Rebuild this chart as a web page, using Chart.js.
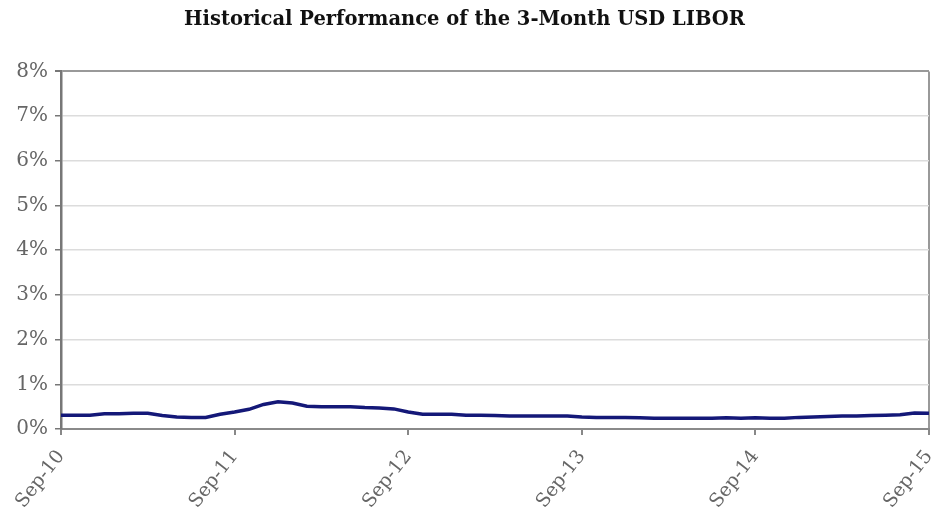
<!DOCTYPE html>
<html>
<head>
<meta charset="utf-8">
<script src="https://cdn.jsdelivr.net/npm/chart.js"></script>
<style>
  body { margin: 0; background: #fff; }
  #wrap { width: 933px; height: 514px; }
</style>
</head>
<body>
<div id="wrap"><canvas id="myChart" width="933" height="514"></canvas></div>
<script>
var ctx = document.getElementById('myChart');

// x tick labels, one every 12 months starting Sep 2010
const yearLabels = ['Sep-10', 'Sep-11', 'Sep-12', 'Sep-13', 'Sep-14', 'Sep-15'];

// month index from Sep-10 (0) to Sep-15 (60)
const months = [];
for (let i = 0; i <= 60; i++) months.push(i);

// 3-month USD LIBOR, % (monthly)
const libor = [
  0.31, 0.31, 0.31, 0.34, 0.34, 0.35, 0.35, 0.30, 0.27, 0.26,
  0.26, 0.33, 0.38, 0.44, 0.55, 0.61, 0.58, 0.51, 0.50, 0.50,
  0.50, 0.48, 0.47, 0.45, 0.38, 0.33, 0.33, 0.33, 0.31, 0.31,
  0.30, 0.29, 0.29, 0.29, 0.29, 0.29, 0.27, 0.26, 0.26, 0.26,
  0.25, 0.24, 0.24, 0.24, 0.24, 0.24, 0.25, 0.24, 0.25, 0.24,
  0.24, 0.26, 0.27, 0.28, 0.29, 0.29, 0.30, 0.31, 0.32, 0.36,
  0.35
];

const points = months.map((m, i) => ({ x: m, y: libor[i] }));

var myChart = new Chart(ctx, {
  type: 'line',
  data: {
    datasets: [{
      label: '3-Month USD LIBOR',
      data: points,
      borderColor: '#141878',
      borderWidth: 3.5,
      pointRadius: 0,
      tension: 0
    }]
  },
  options: {
    responsive: false,
    animation: false,
    layout: { padding: { left: 0, right: 4, top: 0, bottom: 0 } },
    plugins: {
      legend: { display: false },
      tooltip: { enabled: false },
      title: {
        display: true,
        text: 'Historical Performance of the 3-Month USD LIBOR',
        color: '#111',
        font: { family: 'DejaVu Serif', size: 19.5, weight: 'bold' },
        padding: { top: 8, bottom: 40 }
      }
    },
    scales: {
      x: {
        type: 'linear',
        min: 0,
        max: 60,
        afterFit: function (scale) {
          scale.height = 85;
          scale.paddingRight = 0;
        },
        ticks: {
          stepSize: 12,
          minRotation: 52,
          maxRotation: 52,
          padding: 11,
          color: '#666',
          font: { family: 'DejaVu Serif', size: 19 },
          callback: function (v) { return yearLabels[v / 12]; }
        },
        grid: {
          color: function (c) { return c.tick && c.tick.value === 60 ? '#999' : 'rgba(0,0,0,0)'; },
          tickColor: '#888',
          tickLength: 6,
          lineWidth: 2
        },
        border: { color: '#8a8a8a', width: 2 }
      },
      y: {
        min: 0,
        max: 8,
        afterFit: function (scale) { scale.width = 61; },
        ticks: {
          stepSize: 1,
          padding: 7,
          color: '#666',
          font: { family: 'DejaVu Serif', size: 20 },
          callback: function (v) { return v + '%'; }
        },
        grid: {
          color: function (c) { return c.tick && c.tick.value === 8 ? '#999' : '#dcdcdc'; },
          lineWidth: function (c) { return c.tick && c.tick.value === 8 ? 2 : 1.5; },
          tickColor: '#777',
          tickLength: 6
        },
        border: { color: '#777', width: 2.5 }
      }
    }
  }
});
</script>
</body>
</html>
